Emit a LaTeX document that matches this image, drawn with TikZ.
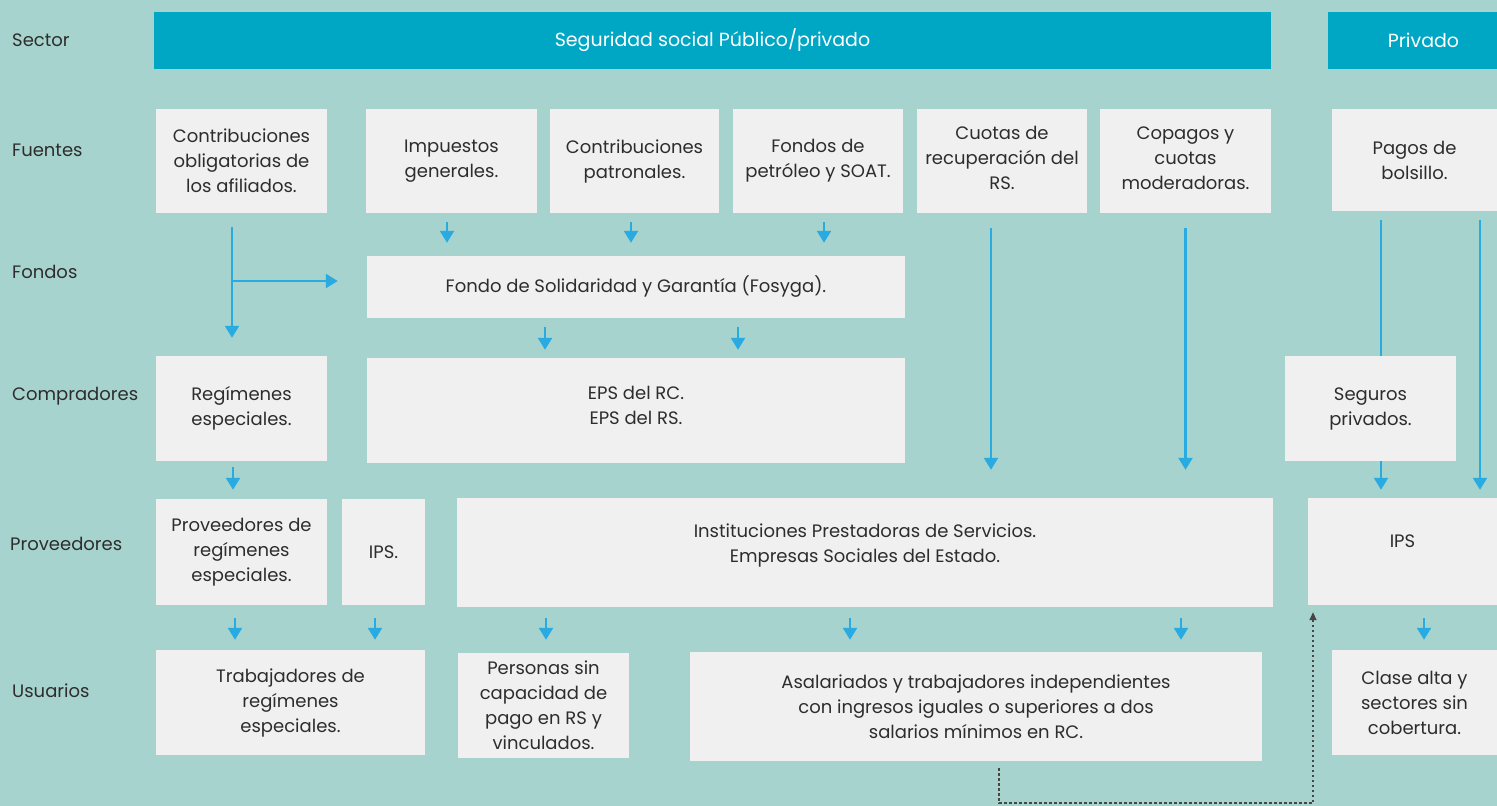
\documentclass[tikz,border=0pt]{standalone}
\usepackage{fontspec}
\setmainfont{Poppins}
\definecolor{BgTeal}{RGB}{167, 211, 206}
\definecolor{HeadBlue}{RGB}{0, 167, 196}
\definecolor{CellGray}{RGB}{240, 240, 240}
\definecolor{InkGray}{RGB}{45, 45, 45}
\definecolor{FlowBlue}{RGB}{41, 171, 226}
\definecolor{DotGray}{RGB}{70, 70, 70}
\usetikzlibrary{arrows.meta, positioning, calc}
\tikzset{
  cell/.style={rectangle, fill=CellGray, inner sep=2pt, text=InkGray, align=center,
               minimum width=171pt, minimum height=105pt},
  hdr/.style={rectangle, fill=HeadBlue, text=white, inner sep=0pt,
              minimum height=57pt, font=\fontsize{19}{25}\selectfont},
  rowlbl/.style={anchor=west, text=InkGray, inner sep=0pt},
  arr/.style={-{Triangle[length=12pt, width=14pt]}, line width=2.4pt, color=FlowBlue},
  dotarr/.style={-{Triangle[length=8pt, width=7pt]}, line width=1.6pt,
                 dash pattern=on 2.5pt off 2.5pt, color=DotGray},
}

\begin{document}
\begin{tikzpicture}[x=1pt, y=-1pt, font=\fontsize{18}{25}\selectfont]
      \fill[BgTeal] (0,0) rectangle (1497,806);
      \useasboundingbox (0,0) rectangle (1497,806);

      % Row labels
      \node[rowlbl] (lsec) at (12,40) {Sector};
      \node[rowlbl] (lfue) at (12,150) {Fuentes};
      \node[rowlbl] (lfon) at (12,272) {Fondos};
      \node[rowlbl] (lcom) at (12,396) {Compradores};
      \node[rowlbl] (lpro) at (10,544) {Proveedores};
      \node[rowlbl] (lusu) at (12,691) {Usuarios};

      % Sector
      \node[hdr, minimum width=1117pt] (pub) at (712.5,40.5) {Seguridad social Público/privado};
      \node[hdr, minimum width=169pt, text width=169pt, align=center] (priv) at (1412.5,40.5) {\hspace*{22pt}Privado};

      % Fuentes
      \node[cell, minimum height=104pt] (afi) at (241.5,161) {Contribuciones\\obligatorias de\\los afiliados.};
      \node[cell, minimum height=104pt] (imp) at (451.5,161) {Impuestos\\generales.};
      \node[cell, minimum width=169pt, minimum height=104pt] (pat) at (634.5,161) {Contribuciones\\patronales.};
      \node[cell, minimum width=170pt, minimum height=104pt] (pet) at (818,161) {Fondos de\\petróleo y SOAT.};
      \node[cell, minimum width=170pt, minimum height=104pt, text depth=6pt] (cuo) at (1002,161) {Cuotas de\\recuperación del\\RS.};
      \node[cell, minimum height=104pt, text depth=6pt] (cop) at (1185.5,161) {Copagos y\\cuotas\\moderadoras.};
      \node[cell, minimum width=165pt, minimum height=102pt] (bol) at (1414.5,160) {Pagos de\\bolsillo.};

      % Fondos
      \node[cell, minimum width=538pt, minimum height=62pt] (fos) at (636,287) {Fondo de Solidaridad y Garantía (Fosyga).};

      % Proveedores
      \node[cell, minimum height=106pt] (prov) at (241.5,552) {Proveedores de\\regímenes\\especiales.};
      \node[cell, minimum width=83pt, minimum height=106pt] (ips) at (383.5,552) {IPS.};
      \node[cell, minimum width=816pt, minimum height=109pt, text depth=19pt] (inst) at (865,552.5) {Instituciones Prestadoras de Servicios.\\Empresas Sociales del Estado.};
      \node[cell, minimum width=189pt, minimum height=107pt, text depth=21pt] (ipsp) at (1402.5,551.5) {IPS};

      % private flow runs behind the insurance box
      \draw[arr, shorten <=9pt, shorten >=8pt] ([xshift=-33.5pt]bol.south) -- ([xshift=-33.5pt]bol.south |- ipsp.north);

      % Compradores
      \node[cell] (reg) at (241.5,408.5) {Regímenes\\especiales.};
      \node[cell, minimum width=538pt, text depth=10pt] (eps) at (636,410.5) {EPS del RC.\\EPS del RS.};
      \node[cell] (seg) at (1370.5,408.5) {Seguros\\privados.};

      % Usuarios
      \node[cell, minimum width=269pt] (trab) at (290.5,702.5) {Trabajadores de\\regímenes\\especiales.};
      \node[cell] (pers) at (543.5,705.5) {Personas sin\\capacidad de\\pago en RS y\\vinculados.};
      \node[cell, minimum width=572pt, minimum height=109pt] (asal) at (976,706.5) {Asalariados y trabajadores independientes\\con ingresos iguales o superiores a dos\\salarios mínimos en RC.};
      \node[cell, minimum width=165pt] (clase) at (1414.5,702.5) {Clase alta y\\sectores sin\\cobertura.};

      % Fuentes -> Fondos
      \coordinate (brafi) at ([xshift=-9.5pt]afi.south |- fos.west);
      \draw[arr, shorten <=14pt, shorten >=18pt] ([xshift=-9.5pt]afi.south) -- ([xshift=-9.5pt]afi.south |- reg.north);
      \draw[arr, shorten >=29pt] ([yshift=6pt]brafi) -- ([yshift=6pt]fos.west);
      \draw[arr, shorten <=9pt, shorten >=13pt] ([xshift=-4.5pt]imp.south) -- ([xshift=-4.5pt]imp.south |- fos.north);
      \draw[arr, shorten <=9pt, shorten >=13pt] ([xshift=-3.5pt]pat.south) -- ([xshift=-3.5pt]pat.south |- fos.north);
      \draw[arr, shorten <=9pt, shorten >=13pt] ([xshift=6pt]pet.south) -- ([xshift=6pt]pet.south |- fos.north);

      % Fondos -> Compradores
      \draw[arr, shorten <=9pt, shorten >=8pt] ([xshift=-91pt]fos.south) -- ([xshift=-91pt]fos.south |- eps.north);
      \draw[arr, shorten <=9pt, shorten >=8pt] ([xshift=102pt]fos.south) -- ([xshift=102pt]fos.south |- eps.north);

      % long flows to providers
      \draw[arr, shorten <=15pt, shorten >=28pt] ([xshift=-11pt]cuo.south) -- ([xshift=-11pt]cuo.south |- inst.north);
      \draw[arr, shorten <=15pt, shorten >=28pt] (cop.south) -- (cop.south |- inst.north);
      \draw[arr, shorten <=9pt, shorten >=8pt] ([xshift=65.5pt]bol.south) -- ([xshift=65.5pt]bol.south |- ipsp.north);
      \draw[arr, shorten <=6pt, shorten >=9pt] ([xshift=-8.5pt]reg.south) -- ([xshift=-8.5pt]reg.south |- prov.north);

      % Proveedores -> Usuarios
      \draw[arr, shorten <=13pt, shorten >=10pt] ([xshift=-6.5pt]prov.south) -- ([xshift=-6.5pt]prov.south |- trab.north);
      \draw[arr, shorten <=13pt, shorten >=10pt] ([xshift=-8.5pt]ips.south) -- ([xshift=-8.5pt]ips.south |- trab.north);
      \draw[arr, shorten <=11pt, shorten >=10pt] ([xshift=-319pt]inst.south) -- ([xshift=-319pt]inst.south |- trab.north);
      \draw[arr, shorten <=11pt, shorten >=10pt] ([xshift=-15pt]inst.south) -- ([xshift=-15pt]inst.south |- trab.north);
      \draw[arr, shorten <=11pt, shorten >=10pt] ([xshift=316pt]inst.south) -- ([xshift=316pt]inst.south |- trab.north);
      \draw[arr, shorten <=13pt, shorten >=10pt] ([xshift=21.5pt]ipsp.south) -- ([xshift=21.5pt]ipsp.south |- clase.north);

      % dotted return to private IPS
      \draw[dotarr, shorten >=7pt] ([xshift=23pt, yshift=-7pt]asal.south) -- ++(0,35) -| ([xshift=-89.5pt]ipsp.south);
\end{tikzpicture}
\end{document}
